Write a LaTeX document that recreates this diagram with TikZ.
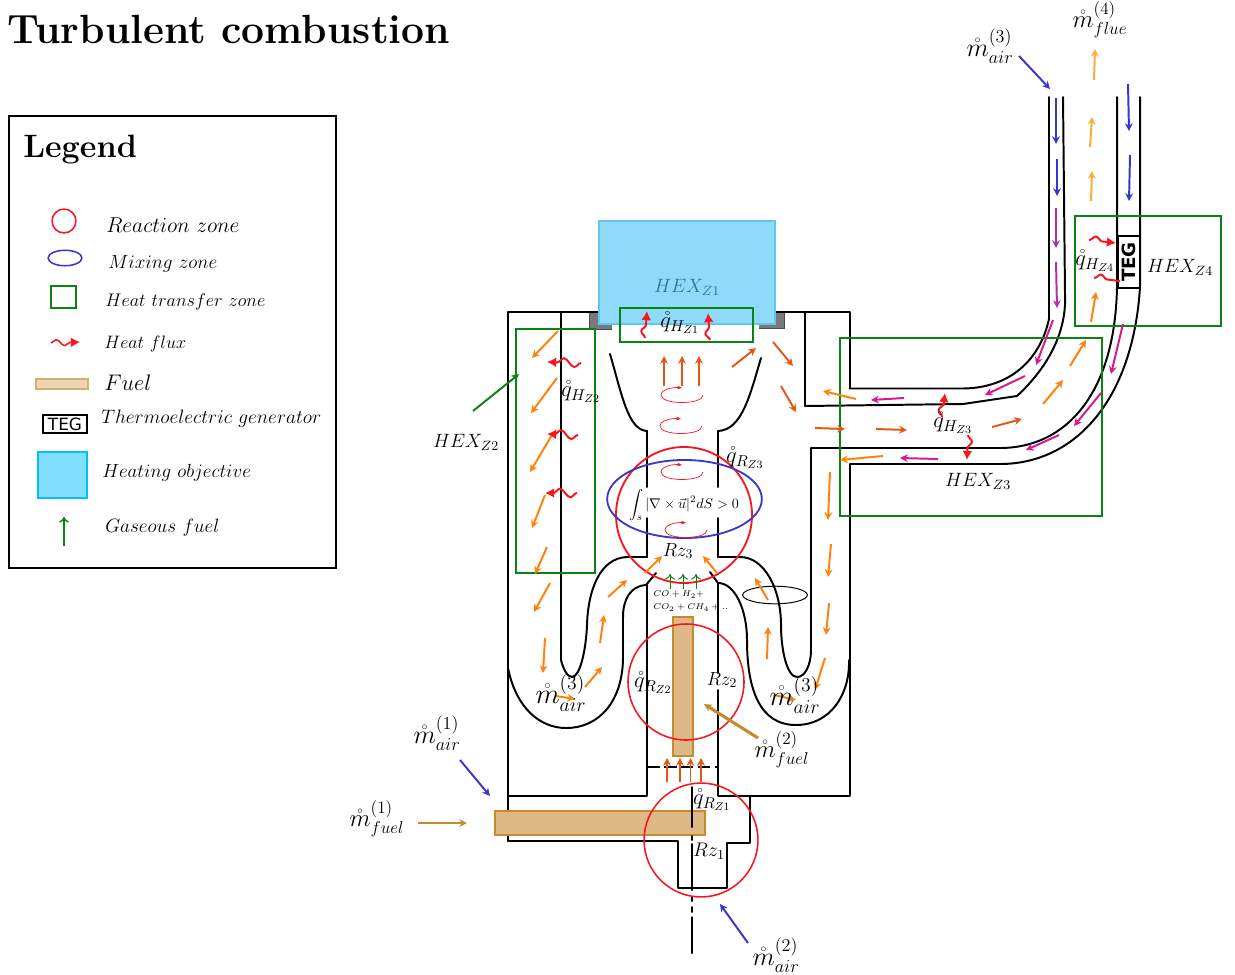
\documentclass[tikz,border=0pt]{standalone}
\usepackage{fix-cm}
\usepackage{amsmath,xcolor}
\usepackage{fontspec}
\newfontfamily\tegfont{DejaVu Sans}
\definecolor{zonered}{RGB}{250,20,30}
\definecolor{mixblue}{RGB}{55,55,205}
\definecolor{hexgreen}{RGB}{10,130,20}
\definecolor{fueltan}{RGB}{222,184,135}
\definecolor{fuelbrown}{RGB}{195,140,45}
\definecolor{objblue}{RGB}{143,217,251}
\definecolor{objline}{RGB}{95,200,240}
\definecolor{legendblue}{RGB}{128,222,255}
\definecolor{legendline}{RGB}{0,191,255}
\definecolor{floworange}{RGB}{255,130,10}
\definecolor{hotorange}{RGB}{228,88,20}
\definecolor{flueorange}{RGB}{255,172,55}
\definecolor{airpurple}{RGB}{170,50,170}
\definecolor{airmagenta}{RGB}{215,25,140}
\usetikzlibrary{arrows.meta,positioning,shapes.geometric,decorations.pathmorphing}
\newcommand{\mflow}[2]{$\mathring{m}^{(#1)}_{#2}$}
\newcommand{\qflux}[1]{$\mathring{q}_{#1}$}
\newcommand{\swirlmark}[2]{\draw[swirl] (#1+21,#2) .. controls (#1+21,#2+10) and (#1-21,#2+10) .. (#1-21,#2) .. controls (#1-21,#2-6) and (#1-8,#2-8) .. (#1,#2-7);}
\tikzset{
  wall/.style={black, line width=1.4pt, line join=round, line cap=round},
  zonecircle/.style={circle, draw=zonered, line width=1.1pt, inner sep=0pt},
  hexbox/.style={draw=hexgreen, line width=1.5pt},
  fuelbar/.style={draw=fuelbrown, fill=fueltan, line width=0.8pt},
  swirl/.style={zonered, line width=0.5pt, -{Stealth[length=3.5pt]}},
  heatflux/.style={zonered, line width=1.4pt, -{Latex[length=6.5pt,width=7pt]}, decorate, decoration={snake, amplitude=3pt, segment length=15pt, post length=5pt}},
  gasarrow/.style={hexgreen, line width=0.7pt, -{To[length=4pt,width=7pt]}},
  flow/.style={line width=1.4pt, -{Stealth[length=5.5pt,width=5.5pt]}},
  ltext/.style={font=\fontsize{#1}{18}\selectfont, inner sep=0pt},
  ltext/.default=15,
  legendtext/.style={ltext=#1, anchor=west},
}

\begin{document}
\begin{tikzpicture}[x=0.025cm, y=-0.025cm]
  \useasboundingbox (0,0) rectangle (1235,974);

  %--- Title and legend ---
  \node[font=\fontsize{29}{34}\selectfont\bfseries, anchor=west, inner sep=0pt] (title) at (7,29) {Turbulent combustion};
  \draw[black, line width=1.4pt] (9,116) rectangle (336,568);
  \node[font=\fontsize{23}{28}\selectfont\bfseries, anchor=west, inner sep=0pt] (legendtitle) at (23,150) {Legend};

  \node[zonecircle, minimum size=17pt] (lgcircle) at (64,221) {};
  \node[ellipse, draw=mixblue, line width=1.1pt, minimum width=24pt, minimum height=11pt, inner sep=0pt] (lgellipse) at (65,258) {};
  \draw[hexbox] (51,286) rectangle (76,308);
  \draw[heatflux, line width=1.1pt, decoration={amplitude=2.2pt, segment length=12pt}] (51,343) -- (80,342);
  \draw[draw=fuelbrown!70, fill=fueltan!60, line width=1pt] (36,379) rectangle (88,389);
  \node[draw, line width=1.1pt, minimum width=31pt, minimum height=12.5pt, inner sep=0pt, font=\tegfont\fontsize{12}{12}\selectfont] (lgteg) at (65,424) {TEG};
  \draw[draw=legendline, fill=legendblue, line width=1.1pt] (38,452) rectangle (87,498);
  \draw[gasarrow, line width=1pt] (64,546) -- (64,517);

  \node[legendtext=15.3] (lgreact) at (106,225) {$Reaction\ zone$};
  \node[legendtext=13.6] (lgmix) at (108,264) {$Mixing\ zone$};
  \node[legendtext=13] (lgheat) at (105,302) {$Heat\ transfer\ zone$};
  \node[legendtext=12.8] (lgflux) at (104,344) {$Heat\ flux$};
  \node[legendtext=16] (lgfuel) at (104,383) {$Fuel$};
  \node[legendtext=13.8] (lgtegtext) at (101,419) {$Thermoelectric\ generator$};
  \node[legendtext=13.5] (lgobj) at (102,473) {$Heating\ objective$};
  \node[legendtext=13.7] (lggas) at (105,528) {$Gaseous\ fuel$};

  %--- Heating objective ---
  \fill[gray!95!black] (589,313) rectangle (612,329);
  \fill[gray!95!black] (759,313) rectangle (784,328);
  \draw[draw=black!70, line width=0.6pt] (589,313) -- (589,329) -- (612,329);
  \draw[draw=black!70, line width=0.6pt] (759,328) -- (784,328) -- (784,313);
  \draw[wall] (599,312) -- (508,312) -- (508,841);
  \draw[wall] (775,312) -- (850,312) -- (850,388.5);

  %--- Burner walls ---
  \draw[wall] (561,312) -- (561,660) .. controls (563,668) and (567,677) .. (572,677) .. controls (580,677) and (586,650) .. (587,625) .. controls (588,590) and (600,558) .. (627,557) -- (647,557);
  \draw[wall] (508,668) .. controls (516,708) and (540,728) .. (566,728) .. controls (600,728) and (623,700) .. (623,657) -- (623,617) .. controls (623,600) and (630,586) .. (646,585) -- (656,573);
  \draw[wall] (647,585) -- (647,796) -- (508,796);
  \draw[wall] (647,431) -- (647,487);
  \draw[wall] (647,518) -- (647,557);
  \draw[wall] (718,431) -- (718,487);
  \draw[wall] (718,518) -- (718,557);
  \draw[wall] (610,354) .. controls (622,395) and (628,430) .. (647,431);
  \draw[wall] (761,358) .. controls (750,395) and (742,430) .. (718,431);

  \draw[wall] (718,583) -- (718,673);
  \draw[wall] (718,690) -- (718,796) -- (850,796) -- (850,464);
  \draw[wall] (710,572) -- (718,583) .. controls (735,583) and (747,610) .. (747,640) .. controls (747,690) and (760,725) .. (796,725) .. controls (830,725) and (850,695) .. (849,660);
  \draw[wall] (718,557) -- (740,557) .. controls (765,557) and (781,590) .. (781,625) .. controls (781,650) and (787,677) .. (797,677) .. controls (805,677) and (811,665) .. (811,650) -- (811,448);
  \draw[wall] (805,312) -- (805,406);

  \draw[wall] (750,796) -- (750,843) -- (727,843) -- (727,888) -- (678,888) -- (678,841) -- (508,841);

  %--- Flue duct ---
  \draw[wall] (1049,97) -- (1049,319) .. controls (1040,360) and (1010,388) .. (963,388.5) -- (850,388.5);
  \draw[wall] (1063,97) -- (1065,294) .. controls (1067,335) and (1045,370) .. (1017,396) -- (963,404) -- (805,406);
  \draw[wall] (1117,97) -- (1117,287) .. controls (1115,395) and (1065,448) .. (1000,448) -- (811,448);
  \draw[wall] (1140,97) -- (1140,287) .. controls (1133,400) and (1075,464) .. (1000,464) -- (850,464);

  \draw[wall, fill=white] (1118,236) rectangle (1140,288);
  \node[rotate=90, inner sep=0pt, font=\tegfont\bfseries\fontsize{13}{13}\selectfont] (teg) at (1129,262) {TEG};

  %--- Objective on top of the walls ---
  \draw[draw=objline, fill=objblue, line width=0.9pt] (599,221) rectangle (775,324);
  \node[ltext=13.7, text={rgb,255:red,45;green,115;blue,150}] (hexone) at (687,287) {$HEX_{Z1}$};

  %--- Fuel ---
  \draw[fuelbar] (495,811) rectangle (705,835);
  \draw[fuelbar] (673,617) rectangle (693,756);

  %--- Centre line ---
  \draw[wall, line cap=butt, dash pattern=on 9pt off 3pt] (647,767) -- (718,767);
  \draw[wall] (692,787) -- (692,827);
  \draw[wall] (692,836) -- (692,840);
  \draw[wall] (692,844) -- (692,890);
  \draw[wall] (692,897) -- (692,901);
  \draw[wall] (692,907) -- (692,912);
  \draw[wall] (692,917) -- (692,953);

  %--- Zones ---
  \draw[hexbox] (620,308) rectangle (753,342);
  \draw[hexbox] (516,329) rectangle (595,573);
  \draw[hexbox] (840,338) rectangle (1102,516);
  \draw[hexbox] (1075,216) rectangle (1221,326);
  \node[zonecircle, line width=1.3pt, minimum size=96.7pt] (rzthree) at (684,515) {};
  \node[zonecircle, minimum size=82.5pt] (rztwo) at (686,682) {};
  \node[zonecircle, minimum size=81pt] (rzone) at (701,840) {};
  \node[ellipse, draw=mixblue, line width=1.3pt, minimum width=110pt, minimum height=55.5pt, inner sep=0pt] (mixzone) at (684.5,499) {};
  \node[ellipse, draw=black, line width=0.7pt, minimum width=46pt, minimum height=12.5pt, inner sep=0pt] (swirlzone) at (775,595) {};

  \swirlmark{682}{395}
  \swirlmark{681}{426}
  \swirlmark{682}{472}
  \swirlmark{686}{530}

  %--- Flow arrows ---
  \foreach \xa/\ya/\xb/\yb in {558/331/532/358, 557/378/531/413, 552/435/530/472, 545/495/532/528, 547/547/535/574, 550/583/534/612, 545/638/543/673, 585/687/602/667, 556/696/575/699, 600/643/604/615, 608/597/627/580, 645/573/662/556, 717/573/703/556, 768/600/755/578, 767/659/768/627, 825/658/815/690, 774/695/796/700, 829/603/826/635, 831/544/828/577, 830/472/828/520, 883/456/840/460, 856/399/823/391, 1043/404/1063/380, 1070/366/1086/340, 1091/322/1096/292}
    \draw[flow, floworange] (\xa,\ya) -- (\xb,\yb);
  \foreach \xa/\ya/\xb/\yb in {664/386/664/356, 682/386/682/356, 699/386/699/356, 732/367/756/348, 773/342/793/366, 781/386/796/412, 815/428/845/429, 876/429/907/430, 992/427/1022/419, 667/782/667/758, 680/782/680/758, 690.5/782/690.5/758, 701/782/701/758}
    \draw[flow, hotorange] (\xa,\ya) -- (\xb,\yb);
  \foreach \xa/\ya/\xb/\yb in {1091/201/1092/171, 1090/147/1092/117, 1094/80/1095/49}
    \draw[flow, flueorange] (\xa,\ya) -- (\xb,\yb);
  \foreach \xa/\ya/\xb/\yb in {1056/98/1056/144, 1057/159/1057/196, 1128/84/1129/131, 1130/155/1129/201, 1019/56/1050/89, 460/760/490/796, 748/943/720/904}
    \draw[flow, mixblue] (\xa,\ya) -- (\xb,\yb);
  \foreach \xa/\ya/\xb/\yb in {1056/208/1056/248, 1056/262/1057/308}
    \draw[flow, airpurple] (\xa,\ya) -- (\xb,\yb);
  \foreach \xa/\ya/\xb/\yb in {1053/320/1036/365, 1025/376/985/395, 904/398/871/400, 938/459/900/458, 1059/435/1026/450, 1101/393/1074/426, 1123/324/1111/374}
    \draw[flow, airmagenta] (\xa,\ya) -- (\xb,\yb);
  \draw[flow, fuelbrown] (418,823) -- (467,823);
  \draw[flow, fuelbrown, line width=2.2pt] (758,738) -- (704,704);
  \draw[flow, hexgreen] (473,411) -- (519,374);
  \foreach \xa in {670,683,696}
    \draw[gasarrow] (\xa,589) -- (\xa,574);

  %--- Heat flux ---
  \draw[heatflux] (581,363) -- (547,362);
  \draw[heatflux] (578,435) -- (547,434);
  \draw[heatflux] (577,493) -- (545,493);
  \draw[heatflux] (645,338) -- (647,311);
  \draw[heatflux] (710,340) -- (708,313);
  \draw[heatflux] (1089,240) -- (1116,243);
  \draw[heatflux, -] (1094,278) -- (1120,281);
  \draw[heatflux] (942,417) -- (945,393);
  \draw[heatflux] (968,435) -- (967,460);

  %--- Labels ---
  \node[ltext=18.5] (airthree) at (990,46) {\mflow{3}{air}};
  \node[ltext=17.5] (fluefour) at (1100,20) {\mflow{4}{flue}};
  \node[ltext=16] (qzfour) at (1095,261) {\qflux{H_{Z4}}};
  \node[ltext=13.7] (hexfour) at (1180,267) {$HEX_{Z4}$};
  \node[ltext=16] (qzone) at (680,323) {\qflux{H_{Z1}}};
  \node[ltext=16] (qztwo) at (581,392) {\qflux{H_{Z2}}};
  \node[ltext=13.7] (hextwo) at (466,442) {$HEX_{Z2}$};
  \node[ltext=16] (qrthree) at (745,458) {\qflux{R_{Z3}}};
  \node[ltext=10] (vort) at (684,505) {$\displaystyle\int_{s}|\nabla\times\vec{u}|^{2}dS>0$};
  \node[ltext=13.5] (rzthreetext) at (678,551) {$Rz_{3}$};
  \node[ltext=6, align=left, anchor=west, font=\fontsize{6}{9}\selectfont] (gastext) at (653,601) {$CO+H_{2}+$\\$CO_{2}+CH_{4}+..$};
  \node[ltext=16] (qrtwo) at (653,683) {\qflux{R_{Z2}}};
  \node[ltext=13.5] (rztwotext) at (722,680) {$Rz_{2}$};
  \node[ltext=20] (airleft) at (561,693) {\mflow{3}{air}};
  \node[ltext=20] (airright) at (795,695) {\mflow{3}{air}};
  \node[ltext=18.5] (airone) at (437,733) {\mflow{1}{air}};
  \node[ltext=17.5] (fuelone) at (377,819) {\mflow{1}{fuel}};
  \node[ltext=17.5] (fueltwo) at (782,750) {\mflow{2}{fuel}};
  \node[ltext=16] (qrone) at (712,800) {\qflux{R_{Z1}}};
  \node[ltext=14] (rzonetext) at (709,851) {$Rz_{1}$};
  \node[ltext=18.5] (airtwo) at (776,955) {\mflow{2}{air}};
  \node[ltext=16] (qzthree) at (953,423) {\qflux{H_{Z3}}};
  \node[ltext=13.7] (hexthree) at (978,481) {$HEX_{Z3}$};
\end{tikzpicture}
\end{document}
